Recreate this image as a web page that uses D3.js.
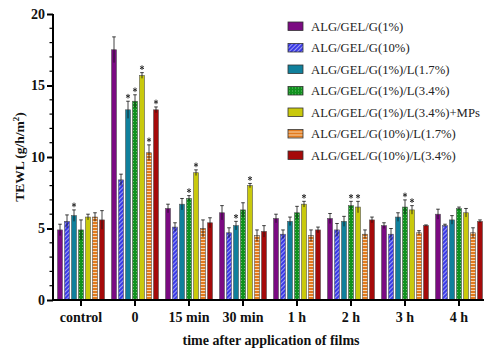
<!DOCTYPE html>
<html>
<head>
<meta charset="utf-8">
<script src="https://cdn.jsdelivr.net/npm/d3@7"></script>
<style>
  body { margin: 0; background: #fff; }
  svg { display: block; font-family: "Liberation Serif", "Times New Roman", serif; }
</style>
</head>
<body>
<svg width="484" height="351"></svg>
<script>
const categories = ['control', '0', '15 min', '30 min', '1 h', '2 h', '3 h', '4 h'];
const series = [
  'ALG/GEL/G(1%)',
  'ALG/GEL/G(10%)',
  'ALG/GEL/G(1%)/L(1.7%)',
  'ALG/GEL/G(1%)/L(3.4%)',
  'ALG/GEL/G(1%)/L(3.4%)+MPs',
  'ALG/GEL/G(10%)/L(1.7%)',
  'ALG/GEL/G(10%)/L(3.4%)'
];
// mean TEWL per series, one entry per category
const values = [
  [4.9, 17.5, 6.4, 6.1, 5.7, 5.7, 5.2, 6.0],
  [5.5, 8.4, 5.1, 4.7, 4.6, 4.9, 4.6, 5.2],
  [5.9, 13.3, 6.7, 5.2, 5.5, 5.5, 5.8, 5.6],
  [4.9, 13.9, 7.1, 6.3, 6.1, 6.6, 6.5, 6.4],
  [5.8, 15.7, 8.9, 8.0, 6.7, 6.5, 6.3, 6.1],
  [5.8, 10.3, 5.0, 4.5, 4.5, 4.6, 4.7, 4.7],
  [5.6, 13.3, 5.4, 4.8, 4.9, 5.6, 5.2, 5.5]
];
const errors = [
  [0.4, 0.9, 0.3, 0.5, 0.3, 0.35, 0.2, 0.35],
  [0.45, 0.4, 0.3, 0.35, 0.3, 0.45, 0.4, 0.1],
  [0.4, 0.6, 0.4, 0.3, 0.3, 0.35, 0.3, 0.3],
  [0.7, 0.45, 0.2, 0.5, 0.45, 0.3, 0.5, 0.1],
  [0.2, 0.2, 0.2, 0.15, 0.2, 0.4, 0.3, 0.3],
  [0.3, 0.55, 0.6, 0.4, 0.4, 0.3, 0.15, 0.35],
  [0.65, 0.2, 0.35, 0.4, 0.2, 0.2, 0.05, 0.1]
];
// significance marks [series, category]
const stars = [[2,0],[2,1],[3,1],[4,1],[5,1],[6,1],[3,2],[4,2],[2,3],[4,3],[4,4],[3,5],[4,5],[3,6],[4,6]];
const yTicks = [0, 5, 10, 15, 20];

const colors = ['#7b0b82', '#3a3ae6', '#10809c', '#10921e', '#c9c90c', '#e27a1e', '#a50a0a'];

const svg = d3.select('svg');
const defs = svg.append('defs');

// patterns
const pHatch = defs.append('pattern').attr('id', 'p1').attr('patternUnits', 'userSpaceOnUse')
  .attr('width', 3).attr('height', 3).attr('patternTransform', 'rotate(45)');
pHatch.append('rect').attr('width', 3).attr('height', 3).attr('fill', colors[1]);
pHatch.append('line').attr('x1', 0).attr('y1', 0).attr('x2', 0).attr('y2', 3)
  .attr('stroke', '#fff').attr('stroke-width', 1);

const pDot = defs.append('pattern').attr('id', 'p3').attr('patternUnits', 'userSpaceOnUse')
  .attr('width', 3).attr('height', 3);
pDot.append('rect').attr('width', 3).attr('height', 3).attr('fill', colors[3]);
pDot.append('rect').attr('x', 1).attr('y', 1).attr('width', 0.8).attr('height', 0.8).attr('fill', '#9fd8a0');

const pLine = defs.append('pattern').attr('id', 'p5').attr('patternUnits', 'userSpaceOnUse')
  .attr('width', 4).attr('height', 3);
pLine.append('rect').attr('width', 4).attr('height', 3).attr('fill', colors[5]);
pLine.append('rect').attr('y', 2).attr('width', 4).attr('height', 0.9).attr('fill', '#fbe0c0');

const fillFor = i => i === 1 ? 'url(#p1)' : i === 3 ? 'url(#p3)' : i === 5 ? 'url(#p5)' : colors[i];

const x0 = d3.scaleBand().domain(categories).range([54, 486]);
const x1 = d3.scaleBand().domain(d3.range(series.length)).range([2.5, x0.bandwidth() - 2.5])
  .paddingInner(0.28).paddingOuter(0.14);
const y = d3.scaleLinear().domain([0, 20]).range([300, 14]);

// bars
const rows = [];
values.forEach((vals, s) => vals.forEach((v, c) => rows.push({ s, c, v, e: errors[s][c] })));

const g = svg.append('g');
g.selectAll('rect.bar').data(rows).enter().append('rect')
  .attr('class', 'bar')
  .attr('x', d => x0(categories[d.c]) + x1(d.s))
  .attr('y', d => y(d.v))
  .attr('width', x1.bandwidth())
  .attr('height', d => y(0) - y(d.v))
  .attr('fill', d => fillFor(d.s))
  .attr('stroke', '#555')
  .attr('stroke-width', 0.6);

// error bars
const cx = d => x0(categories[d.c]) + x1(d.s) + x1.bandwidth() / 2;
const eb = g.selectAll('g.err').data(rows).enter().append('g').attr('class', 'err')
  .attr('stroke', '#111').attr('stroke-width', 0.8);
eb.append('line').attr('x1', cx).attr('x2', cx)
  .attr('y1', d => y(d.v - d.e)).attr('y2', d => y(d.v + d.e));
eb.append('line').attr('x1', d => cx(d) - 1.8).attr('x2', d => cx(d) + 1.8)
  .attr('y1', d => y(d.v + d.e)).attr('y2', d => y(d.v + d.e));

// asterisks (six-armed symbol)
const asterisk = {
  draw(ctx, size) {
    const r = Math.sqrt(size) / 2;
    for (let k = 0; k < 3; k++) {
      const a = Math.PI / 2 + k * Math.PI / 3;
      ctx.moveTo(r * Math.cos(a), r * Math.sin(a));
      ctx.lineTo(-r * Math.cos(a), -r * Math.sin(a));
    }
  }
};
g.selectAll('path.star').data(stars).enter().append('path')
  .attr('class', 'star')
  .attr('transform', d => `translate(${x0(categories[d[1]]) + x1(d[0]) + x1.bandwidth() / 2},${y(values[d[0]][d[1]] + errors[d[0]][d[1]]) - 5})`)
  .attr('d', d3.symbol().type(asterisk).size(22))
  .attr('fill', 'none')
  .attr('stroke', '#222')
  .attr('stroke-width', 0.9);

// y axis
const yAxis = d3.axisLeft(y).tickValues(yTicks).tickSize(6).tickPadding(2);
const ya = svg.append('g').attr('transform', 'translate(53,0)').call(yAxis);
ya.select('.domain').attr('stroke-width', 2).attr('d', 'M0,' + y(20) + 'V' + y(0));
ya.selectAll('.tick line').attr('stroke-width', 2);
ya.selectAll('.tick text').attr('font-size', 14).attr('font-weight', 'bold')
  .attr('font-family', '"Liberation Serif", serif').attr('fill', '#111');
ya.selectAll('line.minor').data(d3.range(0, 21).filter(v => v % 5 !== 0)).enter()
  .append('line').attr('class', 'minor')
  .attr('x1', -3.5).attr('x2', 0).attr('y1', d => y(d)).attr('y2', d => y(d))
  .attr('stroke', '#000').attr('stroke-width', 1.2);

// x axis
const xAxis = d3.axisBottom(x0).tickSize(6).tickPadding(6);
const xa = svg.append('g').attr('transform', 'translate(0,300)').call(xAxis);
xa.select('.domain').attr('stroke-width', 2).attr('d', 'M52,0H484');
xa.selectAll('.tick line').attr('stroke-width', 2);
xa.selectAll('.tick text').attr('font-size', 14).attr('font-weight', 'bold')
  .attr('font-family', '"Liberation Serif", serif').attr('fill', '#111');

// axis titles
svg.append('text')
  .attr('transform', 'translate(24,157) rotate(-90)')
  .attr('text-anchor', 'middle')
  .attr('font-size', 13.5).attr('font-weight', 'bold').attr('fill', '#111')
  .html('TEWL (g/h/m<tspan baseline-shift="super" font-size="9">2</tspan>)');

svg.append('text')
  .attr('x', 271).attr('y', 345)
  .attr('text-anchor', 'middle')
  .attr('font-size', 14).attr('font-weight', 'bold').attr('fill', '#111')
  .text('time after application of films');

// legend
const leg = svg.append('g').attr('transform', 'translate(288,22)');
const li = leg.selectAll('g').data(series).enter().append('g')
  .attr('transform', (d, i) => `translate(0,${i * 21.5})`);
li.append('rect').attr('width', 15).attr('height', 8.5)
  .attr('fill', (d, i) => fillFor(i)).attr('stroke', '#333').attr('stroke-width', 0.8);
li.append('text').attr('x', 23).attr('y', 8.5)
  .attr('font-size', 12.7).attr('fill', '#222')
  .text(d => d);
</script>
</body>
</html>
